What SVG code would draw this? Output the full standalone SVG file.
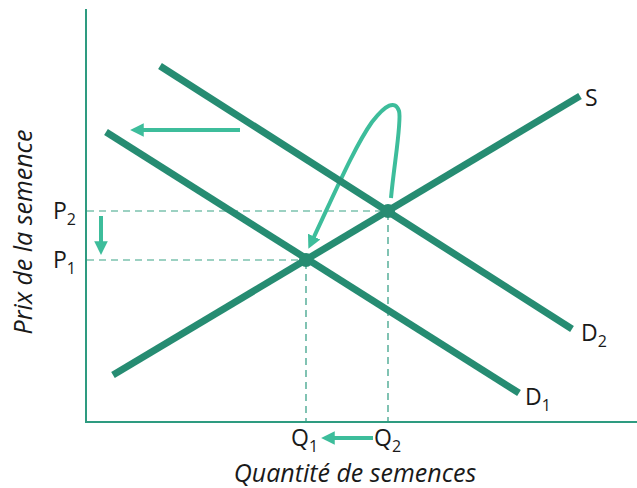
<svg xmlns="http://www.w3.org/2000/svg" width="637" height="488" viewBox="0 0 637 488">
<style>
.axis{stroke:#2e9b80;stroke-width:2;fill:none}
.curve{stroke:#268c72;stroke-width:7;fill:none}
.dash{stroke:#7cc2ae;stroke-width:1.5;stroke-dasharray:7 5;fill:none}
.vdash{stroke:#2e9b80;stroke-width:1.2;stroke-dasharray:7 5;fill:none}
.arr{stroke:#3dbd9b;stroke-width:4;fill:none}
.lbl{font-family:"Open Sans","Noto Sans","Liberation Sans",sans-serif;font-size:23px;fill:#1a1a1a}
.sub{font-size:16px}
.title{font-family:"Open Sans","Noto Sans","Liberation Sans",sans-serif;font-size:25px;font-style:italic;fill:#1a1a1a}
</style>
<defs>
<marker id="ah" viewBox="0 0 10 10" refX="2" refY="5" markerWidth="3.4" markerHeight="3.8" orient="auto" markerUnits="strokeWidth">
<path d="M0,0 L10,5 L0,10 z" fill="#3dbd9b"/>
</marker>
</defs>
<g id="axes">
<path class="axis" d="M86,9 V422 H637"/>
</g>
<g id="connectors">
<path class="dash" d="M87,211 H388"/>
<path class="dash" d="M87,260 H306"/>
<path class="vdash" d="M306,262 V422"/>
<path class="vdash" d="M388,213 V422"/>
<path class="arr" d="M240,130 H141" marker-end="url(#ah)"/>
<path class="arr" d="M101,216 V244" marker-end="url(#ah)"/>
<path class="arr" d="M373,438 H332" marker-end="url(#ah)"/>
<path class="arr" d="M391,198 C394,165 402,120 399,111 C395,100 386,104 372,122 C355,146 336,190 313,239" marker-end="url(#ah)"/>
</g>
<g id="S">
<path class="curve" d="M113,375 L580,96"/>
<text class="lbl" x="585" y="106">S</text>
</g>
<g id="D2">
<path class="curve" d="M160,66 L572,329"/>
<text class="lbl" x="581" y="341">D<tspan class="sub" dy="6">2</tspan></text>
</g>
<g id="D1">
<path class="curve" d="M106,132 L519,393"/>
<text class="lbl" x="525" y="405">D<tspan class="sub" dy="6">1</tspan></text>
</g>
<g id="E1"><circle cx="306" cy="260" r="7" fill="#268c72"/></g>
<g id="E2"><circle cx="388" cy="211" r="7" fill="#268c72"/></g>
<g id="labels">
<text class="lbl" x="53" y="219">P<tspan class="sub" dy="6">2</tspan></text>
<text class="lbl" x="53" y="268">P<tspan class="sub" dy="6">1</tspan></text>
<text class="lbl" x="291" y="446">Q<tspan class="sub" dy="6">1</tspan></text>
<text class="lbl" x="374" y="446">Q<tspan class="sub" dy="6">2</tspan></text>
<text class="title" x="355" y="482" text-anchor="middle">Quantité de semences</text>
<text class="title" transform="translate(32,232) rotate(-90)" text-anchor="middle">Prix de la semence</text>
</g>
</svg>
